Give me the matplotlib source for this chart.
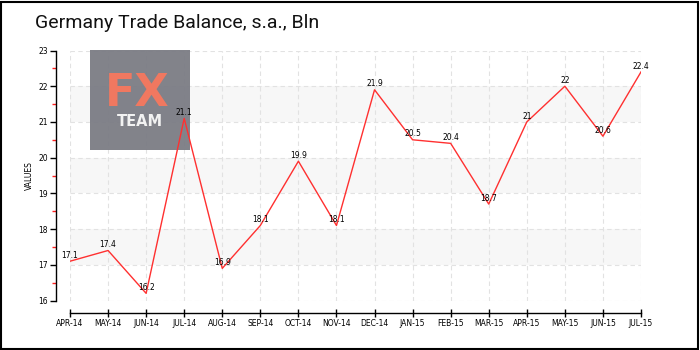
import matplotlib
matplotlib.use("Agg")
import matplotlib.pyplot as plt
from matplotlib.patches import Rectangle
from matplotlib.ticker import MultipleLocator

# data
months = ["APR-14", "MAY-14", "JUN-14", "JUL-14", "AUG-14", "SEP-14", "OCT-14", "NOV-14",
          "DEC-14", "JAN-15", "FEB-15", "MAR-15", "APR-15", "MAY-15", "JUN-15", "JUL-15"]
balance = [17.1, 17.4, 16.2, 21.1, 16.9, 18.1, 19.9, 18.1,
           21.9, 20.5, 20.4, 18.7, 21, 22, 20.6, 22.4]
value_labels = ["17.1", "17.4", "16.2", "21.1", "16.9", "18.1", "19.9", "18.1",
                "21.9", "20.5", "20.4", "18.7", "21", "22", "20.6", "22.4"]
title = "Germany Trade Balance, s.a., Bln"

W, H = 700, 350
fig = plt.figure(figsize=(7, 3.5), dpi=100)
fig.patch.set_facecolor("white")

# frame around the whole picture
fig.patches.append(Rectangle((1 / W, 1 / H), 1 - 3 / W, 1 - 3 / H, transform=fig.transFigure,
                             fill=False, edgecolor="black", linewidth=1.5, zorder=10))

ax = fig.add_axes([70 / W, 1 - 300.5 / H, 571 / W, 250 / H])
ax.set_facecolor("white")

# alternating bands
for lo in (17, 19, 21):
    ax.axhspan(lo, lo + 1, color="#f7f7f7", zorder=0.2, linewidth=0)

x = list(range(len(balance)))
ax.plot(x, balance, color="#ff3030", linewidth=1.0, zorder=3)
for xi, yi, lab in zip(x, balance, value_labels):
    ax.annotate(lab, (xi, yi), xytext=(0, 1), textcoords="offset points",
                ha="center", va="bottom", fontsize=5.5, color="black", zorder=4)

ax.set_xlim(0, len(balance) - 1)
ax.set_ylim(16, 23)
ax.set_xticks(x)
ax.set_xticklabels(months)
ax.yaxis.set_major_locator(MultipleLocator(1))
ax.yaxis.set_minor_locator(MultipleLocator(0.5))
ax.tick_params(axis="y", which="major", labelsize=5.5, length=4, width=1, color="black", pad=2)
ax.tick_params(axis="y", which="minor", length=3, width=1, color="#ff2020")
ax.tick_params(axis="x", which="major", labelsize=5.5, direction="inout", length=6, width=1, pad=1)

ax.set_axisbelow(True)
ax.grid(True, which="major", color="#e2e2e2", linestyle=(0, (4, 3)), linewidth=0.8)

for s in ("top", "right"):
    ax.spines[s].set_visible(False)
ax.spines["left"].set_position(("outward", 10))
ax.spines["bottom"].set_position(("outward", 9))
ax.spines["left"].set_linewidth(1)
ax.spines["bottom"].set_linewidth(1)
ax.spines["left"].set_zorder(5)
ax.spines["bottom"].set_zorder(5)

ax.set_ylabel("VALUES", fontsize=5.5, labelpad=3)

# FX TEAM watermark
ax.add_patch(Rectangle((90 / W, 1 - 150 / H), 100 / W, 100 / H, transform=fig.transFigure,
                       facecolor="#7b7c84", edgecolor="none", alpha=0.95, zorder=2, clip_on=False))
fig.text(137 / W, 1 - 93 / H, "FX", fontsize=32, color="#f07860", ha="center", va="center",
         fontweight="bold", zorder=5)
fig.text(140 / W, 1 - 122 / H, "TEAM", fontsize=10.5, color="#f2f2f2", ha="center", va="center",
         fontweight="bold", zorder=5)

fig.text(35 / W, 1 - 23 / H, title, fontsize=14, ha="left", va="center",
         family=["Roboto", "DejaVu Sans"], color="#111111")

fig.savefig("out.png", dpi=100)
